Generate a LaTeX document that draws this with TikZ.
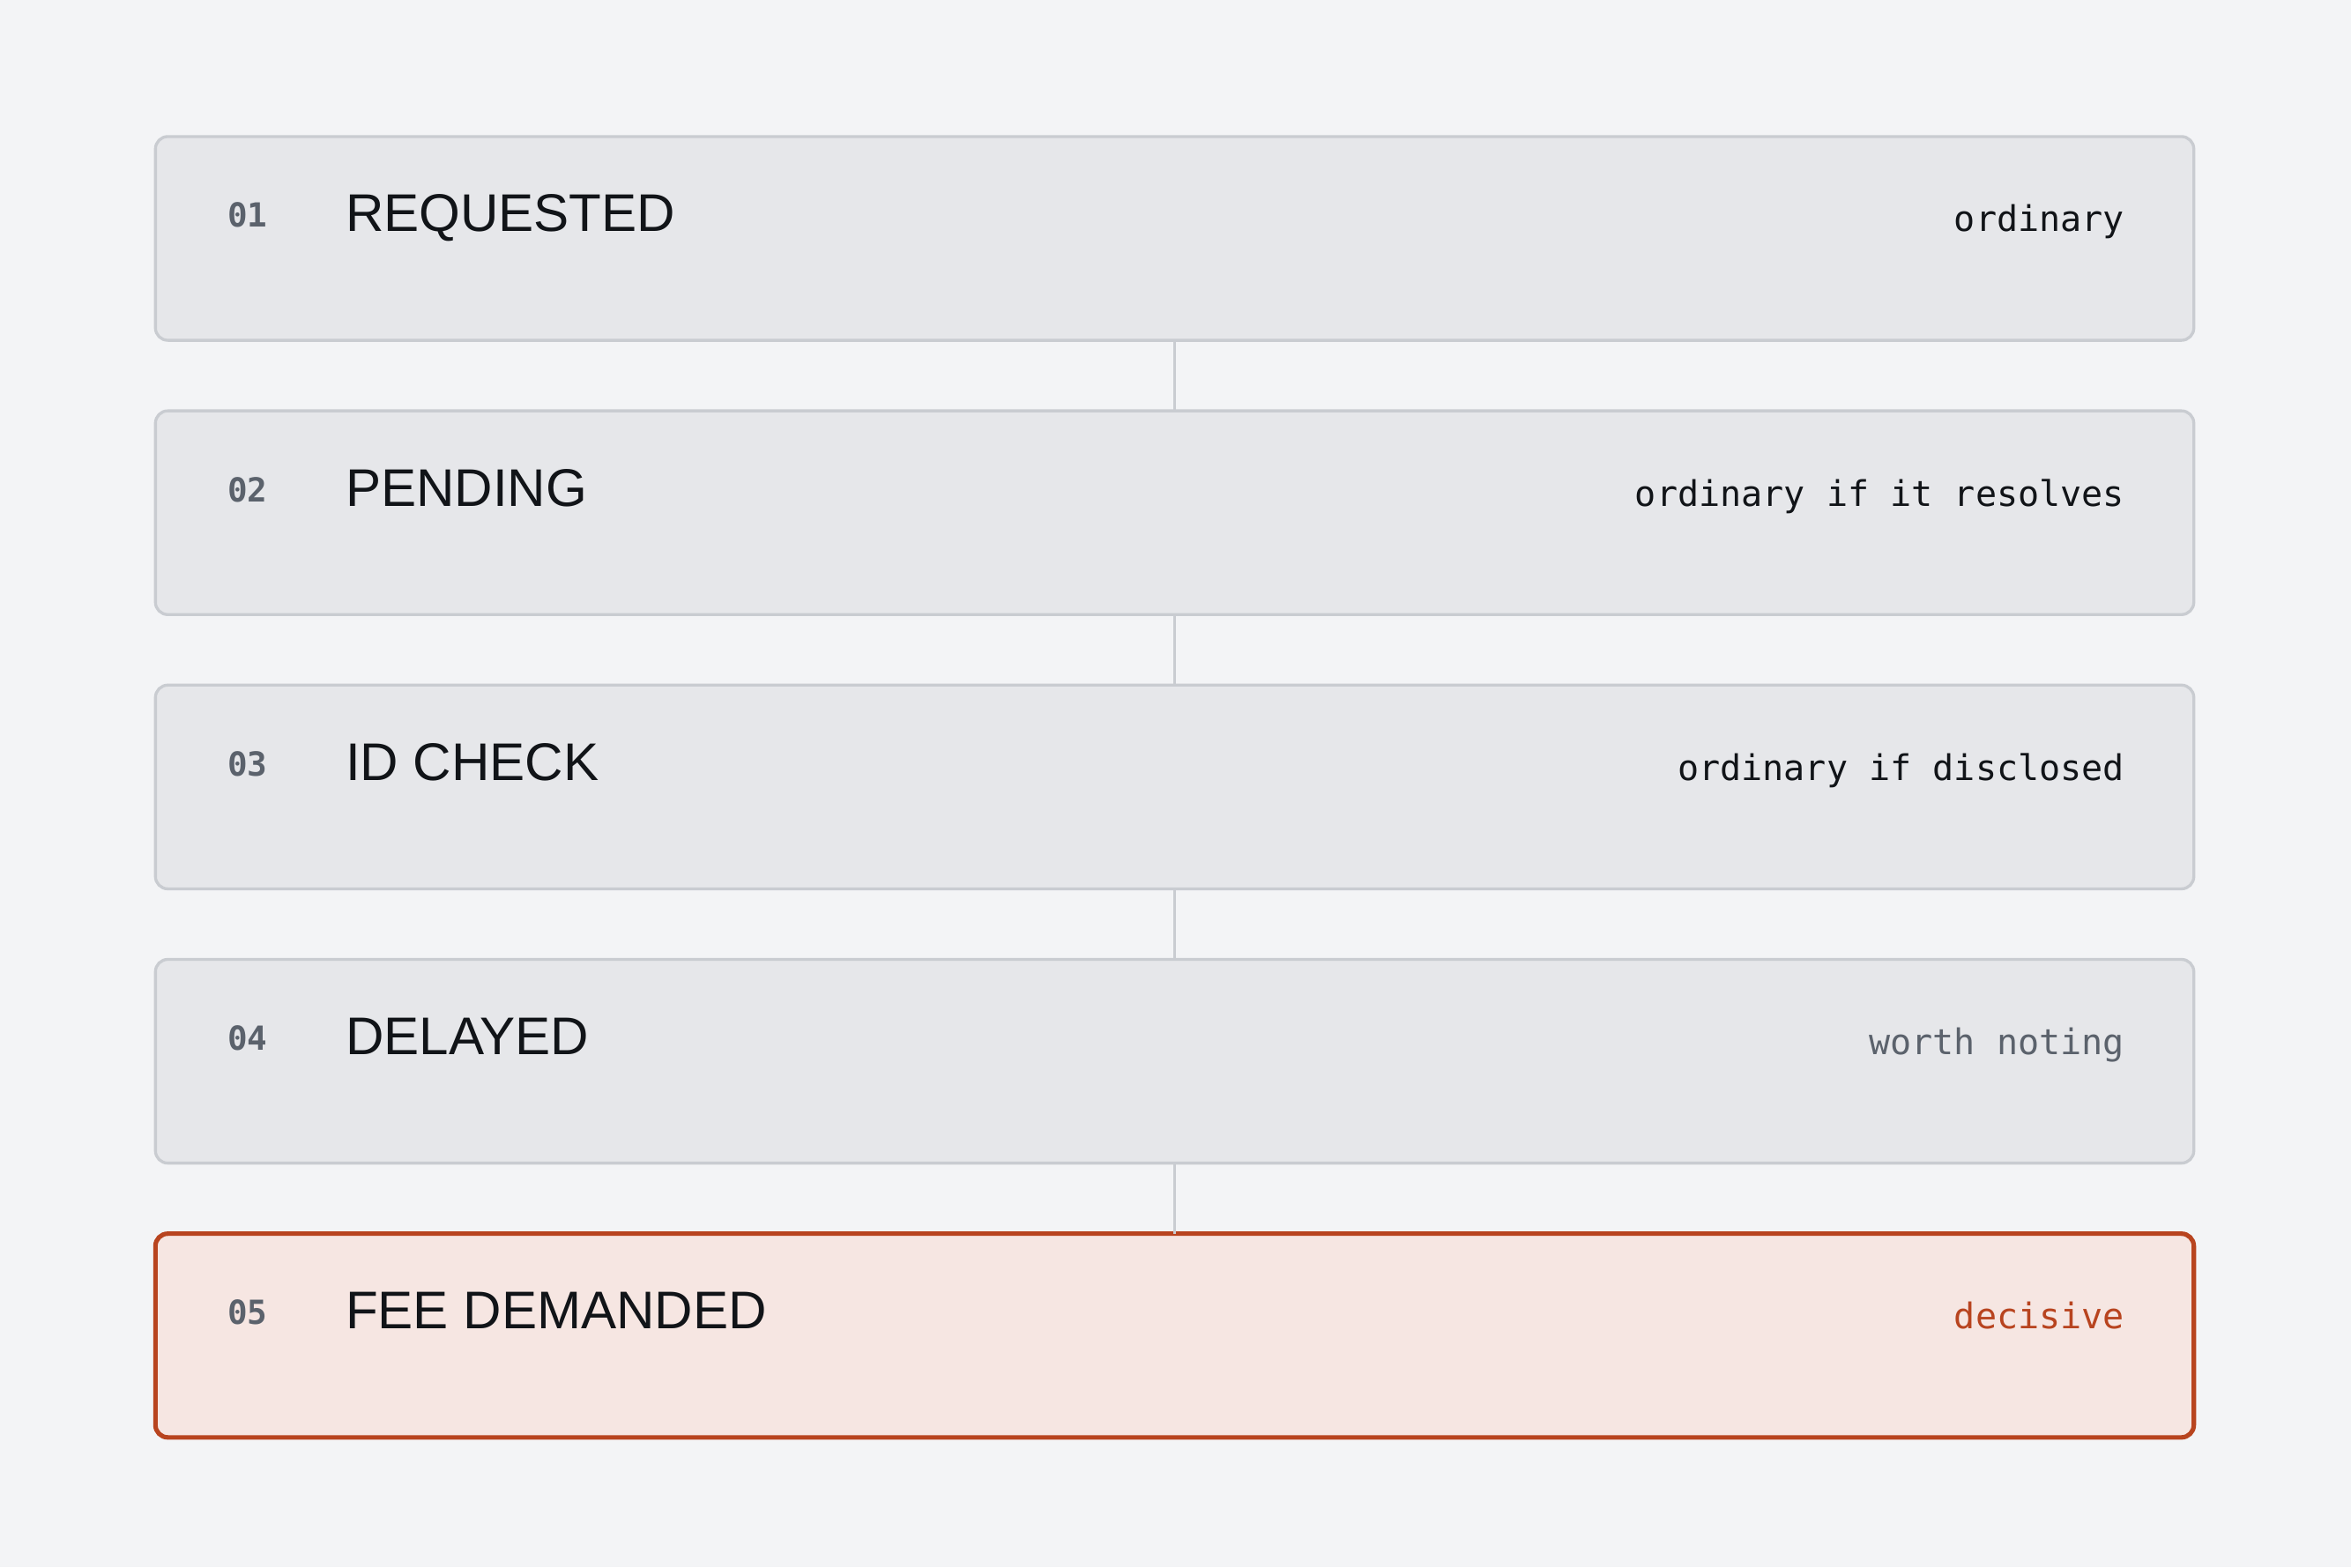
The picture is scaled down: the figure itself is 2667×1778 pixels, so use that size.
\documentclass[tikz,border=0pt]{standalone}
\usepackage{fontspec}
\setmainfont{Liberation Sans}
\setmonofont{DejaVu Sans Mono}
\usetikzlibrary{positioning,calc}

\definecolor{paper}{HTML}{F3F4F6}
\definecolor{boxfill}{HTML}{E6E7EA}
\definecolor{boxline}{HTML}{C9CCD1}
\definecolor{ink}{HTML}{111418}
\definecolor{muted}{HTML}{5B626C}
\definecolor{alert}{HTML}{B8441F}
\definecolor{alertfill}{HTML}{F6E6E2}

\tikzset{
  stage/.style={draw=boxline, fill=boxfill, line width=0.95pt, rounded corners=0.14cm,
    minimum width=23.11cm, minimum height=2.31cm, inner sep=0pt, outer sep=0pt},
  hot/.style={stage, draw=alert, fill=alertfill, line width=1.45pt},
  num/.style={anchor=base west, inner sep=0pt, text=muted, font=\ttfamily\bfseries\fontsize{10.7}{12}\selectfont},
  title/.style={anchor=base west, inner sep=0pt, text=ink, font=\fontsize{17.1}{20}\selectfont},
  note/.style={anchor=base east, inner sep=0pt, text=ink, font=\ttfamily\fontsize{11.4}{14}\selectfont},
  link/.style={draw=boxline, line width=0.95pt}
}

\begin{document}
\begin{tikzpicture}[x=0.01cm, y=-0.01cm]
  \fill[paper] (0,0) rectangle (2667,1778);
  \useasboundingbox (0,0) rectangle (2667,1778);

  \node (req) [stage] at (1332.5,270.5) {};
  \node (pen) [stage, below=0.8cm of req] {};
  \node (idc) [stage, below=0.8cm of pen] {};
  \node (del) [stage, below=0.8cm of idc] {};
  \node (fee) [hot, below=0.8cm of del] {};

  \draw[link] (req) -- (pen);
  \draw[link] (pen) -- (idc);
  \draw[link] (idc) -- (del);
  \draw[link] (del) -- (fee);

  \node (reqnum) [num] at ($(req.north west)+(81,103)$) {01};
  \node (reqtitle) [title] at ($(req.north west)+(215,108)$) {REQUESTED};
  \node (reqnote) [note] at ($(req.north east)+(-78,108)$) {ordinary};

  \node (pennum) [num] at ($(pen.north west)+(81,103)$) {02};
  \node (pentitle) [title] at ($(pen.north west)+(215,108)$) {PENDING};
  \node (pennote) [note] at ($(pen.north east)+(-78,108)$) {ordinary if it resolves};

  \node (idcnum) [num] at ($(idc.north west)+(81,103)$) {03};
  \node (idctitle) [title] at ($(idc.north west)+(215,108)$) {ID CHECK};
  \node (idcnote) [note] at ($(idc.north east)+(-78,108)$) {ordinary if disclosed};

  \node (delnum) [num] at ($(del.north west)+(81,103)$) {04};
  \node (deltitle) [title] at ($(del.north west)+(215,108)$) {DELAYED};
  \node (delnote) [note, text=muted] at ($(del.north east)+(-78,108)$) {worth noting};

  \node (feenum) [num] at ($(fee.north west)+(81,103)$) {05};
  \node (feetitle) [title] at ($(fee.north west)+(215,108)$) {FEE DEMANDED};
  \node (feenote) [note, text=alert] at ($(fee.north east)+(-78,108)$) {decisive};
\end{tikzpicture}
\end{document}
